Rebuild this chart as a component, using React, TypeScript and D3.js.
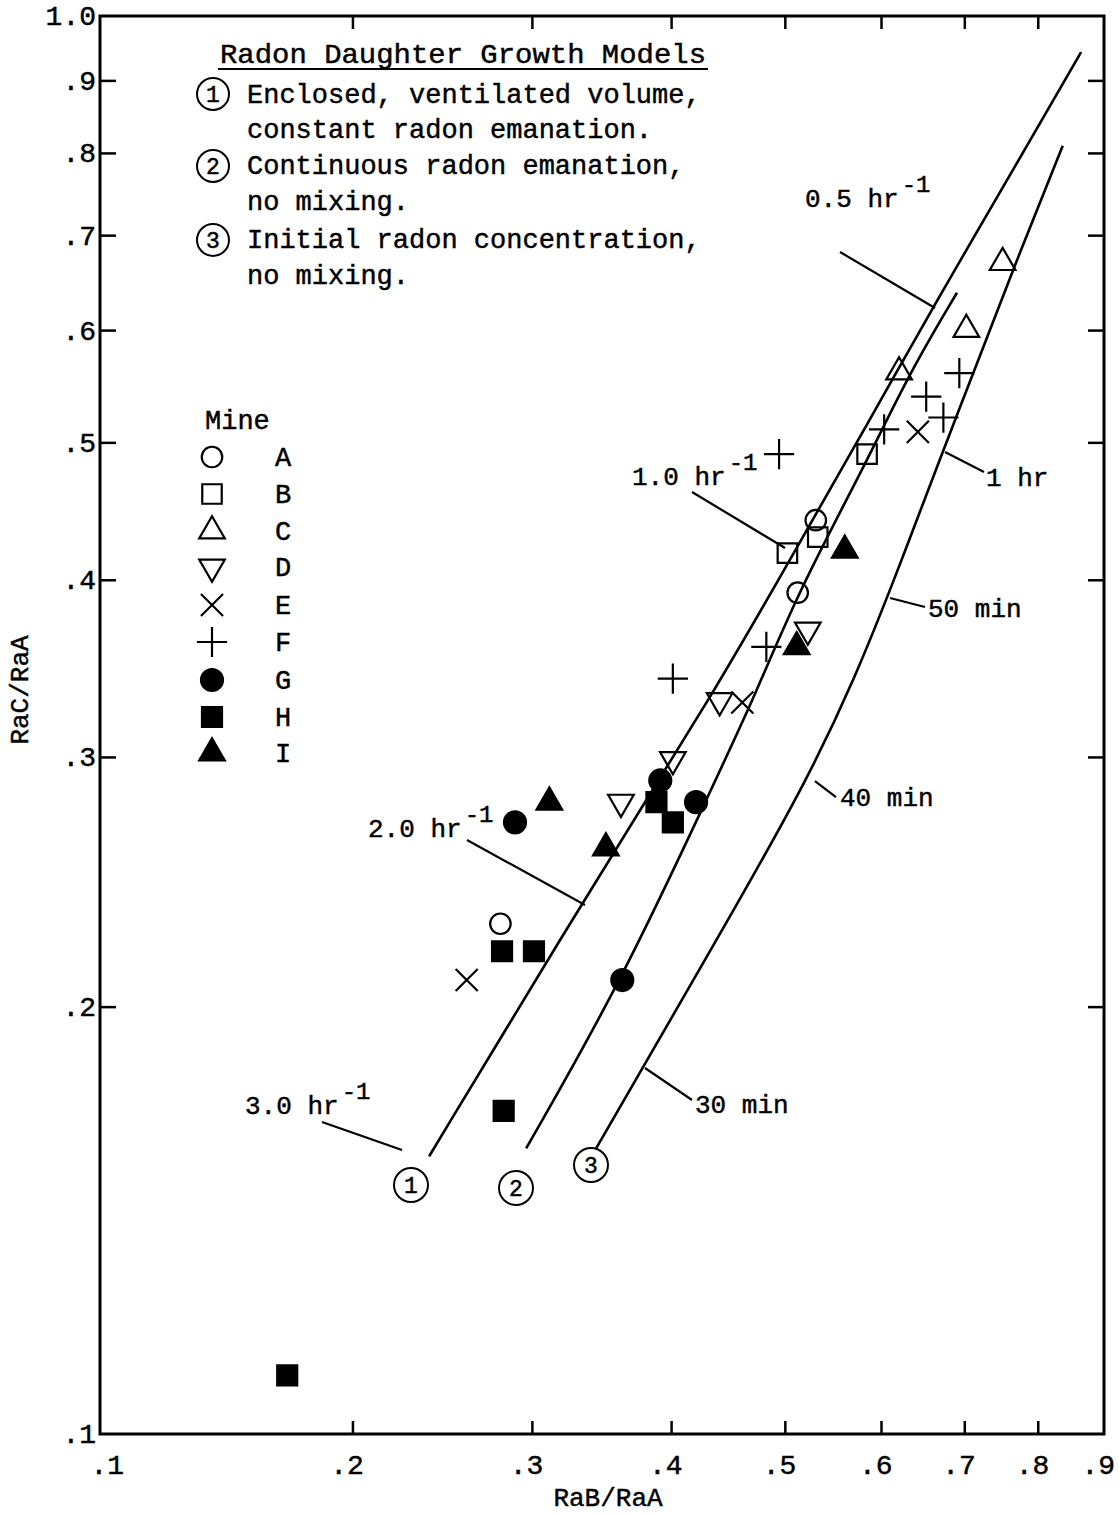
import React from 'react';
import * as d3 from 'd3';

// axis ticks
const xTickValues = [0.1, 0.2, 0.3, 0.4, 0.5, 0.6, 0.7, 0.8, 0.9];
const xTickLabels = ['.1', '.2', '.3', '.4', '.5', '.6', '.7', '.8', '.9'];
const yTickValues = [0.1, 0.2, 0.3, 0.4, 0.5, 0.6, 0.7, 0.8, 0.9, 1.0];
const yTickLabels = ['.1', '.2', '.3', '.4', '.5', '.6', '.7', '.8', '.9', '1.0'];

// measurements per mine: [RaB/RaA, RaC/RaA]
const mineNames = ['A', 'B', 'C', 'D', 'E', 'F', 'G', 'H', 'I'];
const mineA = [[0.530, 0.441], [0.512, 0.392], [0.280, 0.229]];
const mineB = [[0.502, 0.418], [0.532, 0.429], [0.584, 0.491]];
const mineC = [[0.750, 0.670], [0.702, 0.601], [0.620, 0.561]];
const mineD = [[0.522, 0.369], [0.440, 0.329], [0.401, 0.299], [0.361, 0.279]];
const mineE = [[0.642, 0.509], [0.460, 0.328], [0.260, 0.209]];
const mineF = [[0.494, 0.491], [0.603, 0.511], [0.652, 0.539], [0.693, 0.560], [0.673, 0.521], [0.482, 0.359], [0.401, 0.341]];
const mineG = [[0.289, 0.270], [0.391, 0.289], [0.420, 0.279], [0.362, 0.209]];
const mineH = [[0.388, 0.279], [0.401, 0.270], [0.281, 0.219], [0.301, 0.219], [0.282, 0.169], [0.170, 0.110]];
const mineI = [[0.311, 0.279], [0.350, 0.259], [0.511, 0.359], [0.560, 0.420]];
const mineData = [mineA, mineB, mineC, mineD, mineE, mineF, mineG, mineH, mineI];

// growth model curves
const model1 = [[0.239, 0.157], [0.332, 0.236], [0.435, 0.333], [0.508, 0.418], [0.587, 0.519], [0.660, 0.623], [0.772, 0.791], [0.864, 0.943]];
const model2 = [[0.296, 0.159], [0.362, 0.209], [0.438, 0.291], [0.471, 0.331], [0.512, 0.392], [0.583, 0.484], [0.632, 0.560], [0.690, 0.638]];
const model3 = [[0.343, 0.159], [0.377, 0.181], [0.455, 0.236], [0.521, 0.289], [0.570, 0.340], [0.617, 0.404], [0.668, 0.486], [0.711, 0.560], [0.764, 0.662], [0.836, 0.810]];
const models = [model1, model2, model3];

const modelTitle = 'Radon Daughter Growth Models';
const modelLines = [
  'Enclosed, ventilated volume,',
  'constant radon emanation.',
  'Continuous radon emanation,',
  'no mixing.',
  'Initial radon concentration,',
  'no mixing.',
];

const W = 1119;
const H = 1515;
const left = 100, right = 1104, top = 16, bottom = 1434;
const font = "'Liberation Mono', 'Courier New', monospace";

// the RaB/RaA axis is logarithmic in (value + 0.1)
const xLog = d3.scaleLog().domain([0.2, 1.0]).range([left, right]);
const x = (v: number) => xLog(v + 0.1);
const y = d3.scaleLog().domain([0.1, 1.0]).range([bottom, top]);

const markerStyle = [
  { type: d3.symbolCircle, size: 330, filled: false, rot: 0 },
  { type: d3.symbolSquare, size: 380, filled: false, rot: 0 },
  { type: d3.symbolTriangle2, size: 470, filled: false, rot: 0 },
  { type: d3.symbolTriangle2, size: 470, filled: false, rot: 180 },
  { type: d3.symbolTimes, size: 320, filled: false, rot: 0 },
  { type: d3.symbolPlus, size: 300, filled: false, rot: 0 },
  { type: d3.symbolCircle, size: 380, filled: true, rot: 0 },
  { type: d3.symbolSquare, size: 400, filled: true, rot: 0 },
  { type: d3.symbolTriangle2, size: 470, filled: true, rot: 0 },
];

const Marker = ({ i, cx, cy }: { i: number; cx: number; cy: number }) => {
  const m = markerStyle[i];
  const d = d3.symbol().type(m.type).size(m.size)() || '';
  return (
    <path
      d={d}
      transform={`translate(${cx},${cy}) rotate(${m.rot})`}
      fill={m.filled ? '#000' : 'none'}
      stroke="#000"
      strokeWidth={2.2}
      strokeLinejoin="miter"
    />
  );
};

const txt = { fontFamily: font, stroke: '#000', strokeWidth: 0.45 };

const CircledNum = ({ cx, cy, n, r = 16 }: { cx: number; cy: number; n: string; r?: number }) => (
  <g>
    <circle cx={cx} cy={cy} r={r} fill="#fff" stroke="#000" strokeWidth={2} />
    <text x={cx} y={cy + 8} textAnchor="middle" fontSize={23} {...txt}>{n}</text>
  </g>
);

// rate label like "0.5 hr^-1"
const RateLabel = ({ tx, ty, text }: { tx: number; ty: number; text: string }) => (
  <text x={tx} y={ty} fontSize={26} {...txt}>
    {text}
    <tspan dx={3} dy={-15} fontSize={24}>-1</tspan>
  </text>
);

export default function App() {
  const line = d3.line<number[]>().x(d => x(d[0])).y(d => y(d[1])).curve(d3.curveBasis);

  const leaders: [number, number, number, number][] = [
    [840, 252, 935, 308],
    [692, 492, 785, 548],
    [467, 840, 585, 905],
    [322, 1122, 402, 1150],
    [945, 452, 984, 472],
    [890, 598, 925, 607],
    [815, 781, 836, 797],
    [645, 1068, 692, 1100],
  ];

  const legendRows = [457, 494, 531, 567, 605, 642, 680, 717, 753];
  const textRows = [103, 138, 174, 210, 248, 284];

  return (
    <>
      <style>{'body{margin:0;background:#fff}'}</style>
      <svg width={W} height={H} viewBox={`0 0 ${W} ${H}`} style={{ display: 'block', background: '#fff' }}>
        {/* frame */}
        <rect x={left} y={top} width={right - left} height={bottom - top} fill="none" stroke="#000" strokeWidth={3} />

        {/* ticks */}
        {xTickValues.slice(1, -1).map(v => (
          <g key={`xt${v}`}>
            <line x1={x(v)} x2={x(v)} y1={bottom} y2={bottom - 13} stroke="#000" strokeWidth={2.5} />
            <line x1={x(v)} x2={x(v)} y1={top} y2={top + 13} stroke="#000" strokeWidth={2.5} />
          </g>
        ))}
        {yTickValues.slice(1, -1).map(v => (
          <g key={`yt${v}`}>
            <line x1={left} x2={left + 16} y1={y(v)} y2={y(v)} stroke="#000" strokeWidth={2.5} />
            <line x1={right} x2={right - 16} y1={y(v)} y2={y(v)} stroke="#000" strokeWidth={2.5} />
          </g>
        ))}
        {xTickValues.map((v, i) => (
          <text key={`xl${v}`} x={x(v) + (i === 0 ? 24 : 11)} y={1474} textAnchor="end" fontSize={28} {...txt}>{xTickLabels[i]}</text>
        ))}
        {yTickValues.map((v, i) => (
          <text key={`yl${v}`} x={left - 4} y={y(v) + 9} textAnchor="end" fontSize={28} {...txt}>{yTickLabels[i]}</text>
        ))}
        <text x={608} y={1506} textAnchor="middle" fontSize={26} {...txt}>RaB/RaA</text>
        <text transform="translate(28,690) rotate(-90)" textAnchor="middle" fontSize={26} {...txt}>RaC/RaA</text>

        {/* model curves */}
        {models.map((m, i) => (
          <path key={`m${i}`} d={line(m) || ''} fill="none" stroke="#000" strokeWidth={2.6} />
        ))}

        {/* leaders and labels */}
        {leaders.map((l, i) => (
          <line key={`ld${i}`} x1={l[0]} y1={l[1]} x2={l[2]} y2={l[3]} stroke="#000" strokeWidth={2.2} />
        ))}
        <RateLabel tx={805} ty={207} text="0.5 hr" />
        <RateLabel tx={632} ty={485} text="1.0 hr" />
        <RateLabel tx={368} ty={837} text="2.0 hr" />
        <RateLabel tx={245} ty={1114} text="3.0 hr" />
        <text x={986} y={486} fontSize={26} {...txt}>1 hr</text>
        <text x={928} y={617} fontSize={26} {...txt}>50 min</text>
        <text x={840} y={806} fontSize={26} {...txt}>40 min</text>
        <text x={695} y={1113} fontSize={26} {...txt}>30 min</text>
        <CircledNum cx={411} cy={1185} n="1" r={17} />
        <CircledNum cx={516} cy={1188} n="2" r={17} />
        <CircledNum cx={591} cy={1165} n="3" r={17} />

        {/* data */}
        {mineData.map((pts, i) =>
          pts.map((p, j) => <Marker key={`p${i}-${j}`} i={i} cx={x(p[0])} cy={y(p[1])} />)
        )}

        {/* model legend */}
        <text x={220} y={63} fontSize={28} textLength={486} lengthAdjust="spacingAndGlyphs" {...txt}>{modelTitle}</text>
        <line x1={218} x2={708} y1={69} y2={69} stroke="#000" strokeWidth={2} />
        {modelLines.map((t, i) => (
          <text key={`ml${i}`} x={247} y={textRows[i]} fontSize={27} {...txt}>{t}</text>
        ))}
        <CircledNum cx={213} cy={94} n="1" />
        <CircledNum cx={213} cy={166} n="2" />
        <CircledNum cx={213} cy={240} n="3" />

        {/* mine legend */}
        <text x={205} y={429} fontSize={27} {...txt}>Mine</text>
        {mineNames.map((n, i) => (
          <g key={`lg${n}`}>
            <Marker i={i} cx={212} cy={legendRows[i]} />
            <text x={283} y={legendRows[i] + 9} textAnchor="middle" fontSize={27} {...txt}>{n}</text>
          </g>
        ))}
      </svg>
    </>
  );
}
